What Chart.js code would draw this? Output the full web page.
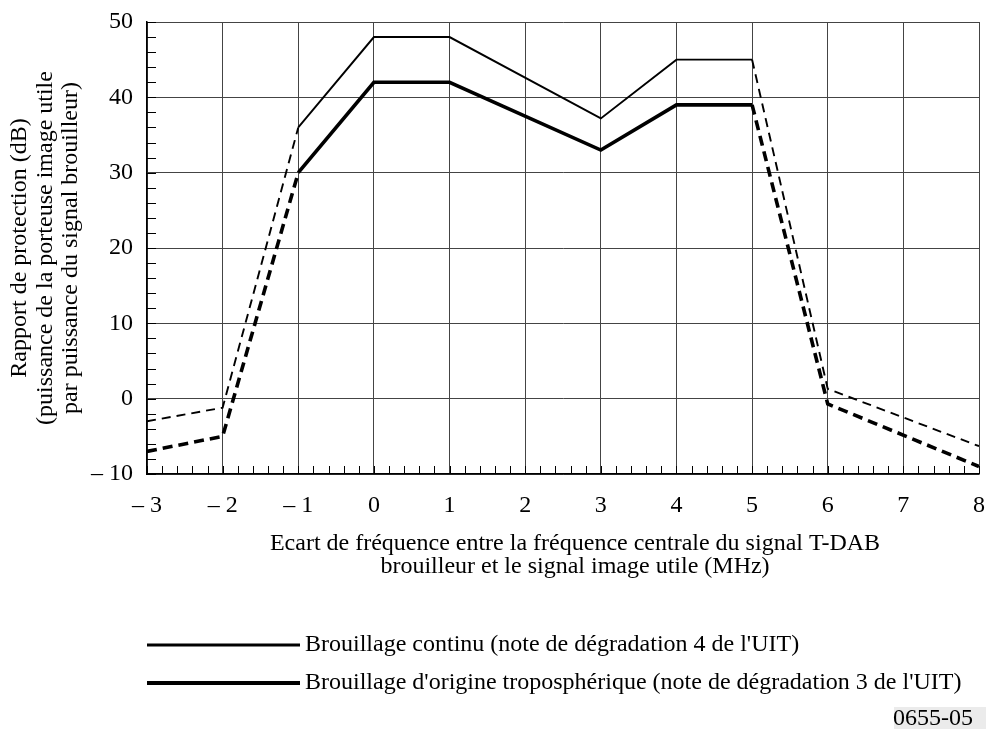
<!DOCTYPE html>
<html>
<head>
<meta charset="utf-8">
<script src="https://cdn.jsdelivr.net/npm/chart.js@4.4.1/dist/chart.umd.min.js"></script>
<style>
  html, body { margin: 0; padding: 0; background: #fff; }
  #wrap { position: relative; width: 986px; height: 729px; }
</style>
</head>
<body>
<div id="wrap"><canvas id="ratioChart" width="986" height="729"></canvas></div>
<script>
// Frequency offsets (MHz)
const freqOffsets = [-3, -2, -1, 0, 1, 3, 4, 5, 6, 8];
// Continuous interference (grade 4)
const continuValues = [-3, -1.2, 36, 48, 48, 37.2, 45, 45, 1.3, -6.3];
// Tropospheric interference (grade 3)
const tropoValues = [-7, -5, 30, 42, 42, 33, 39, 39, -0.7, -9];

const xTicks = [-3, -2, -1, 0, 1, 2, 3, 4, 5, 6, 7, 8];
const yTicks = [-10, 0, 10, 20, 30, 40, 50];

const legendLabels = [
  "Brouillage continu (note de dégradation 4 de l'UIT)",
  "Brouillage d'origine troposphérique (note de dégradation 3 de l'UIT)"
];
const yTitle = [
  'Rapport de protection (dB)',
  '(puissance de la porteuse image utile',
  'par puissance du signal brouilleur)'
];
const xTitle = [
  'Ecart de fréquence entre la fréquence centrale du signal T-DAB',
  'brouilleur et le signal image utile (MHz)'
];
const figureId = '0655-05';

const FONT = '"Liberation Serif", "Times New Roman", serif';
const FSIZE = 24;

function toPoints(values) {
  return freqOffsets.map((x, i) => ({ x: x, y: values[i] }));
}

// dashed outside the measured range -1..5
function dashOutside(dash) {
  return ctx => (ctx.p0.parsed.x < -1 || ctx.p1.parsed.x > 5) ? dash : undefined;
}

function minusLabel(v) {
  return v < 0 ? '\u2013 ' + Math.abs(v) : String(v);
}

// minor ticks, titles, legend
const extrasPlugin = {
  id: 'extras',
  afterDraw(chart) {
    const ctx = chart.ctx;
    const area = chart.chartArea;
    const xs = chart.scales.x;
    const ys = chart.scales.y;
    ctx.save();

    // inward minor ticks
    ctx.strokeStyle = '#000';
    ctx.lineWidth = 1;
    ctx.beginPath();
    for (let v = -10; v <= 50; v += 2) {
      const y = Math.round(ys.getPixelForValue(v)) + 0.5;
      ctx.moveTo(area.left, y);
      ctx.lineTo(area.left + 9, y);
    }
    for (let i = -30; i <= 80; i += 2) {
      const x = Math.round(xs.getPixelForValue(i / 10)) + 0.5;
      ctx.moveTo(x, area.bottom);
      ctx.lineTo(x, area.bottom - 8);
    }
    ctx.stroke();

    ctx.fillStyle = '#000';
    ctx.font = FSIZE + 'px ' + FONT;
    ctx.textAlign = 'center';
    ctx.textBaseline = 'middle';

    // y title
    const midY = (area.top + area.bottom) / 2;
    ctx.save();
    ctx.translate(20, midY);
    ctx.rotate(-Math.PI / 2);
    yTitle.forEach((line, i) => ctx.fillText(line, 0, i * 25.5));
    ctx.restore();

    // x title
    xTitle.forEach((line, i) => ctx.fillText(line, 575, 544 + i * 23));

    // legend
    ctx.textAlign = 'left';
    const legendY = [645, 683];
    const legendW = [3, 4];
    legendLabels.forEach((label, i) => {
      ctx.beginPath();
      ctx.lineWidth = legendW[i];
      ctx.moveTo(147, legendY[i]);
      ctx.lineTo(300, legendY[i]);
      ctx.stroke();
      ctx.fillText(label, 305, legendY[i]);
    });

    // figure id
    ctx.fillStyle = '#ebebeb';
    ctx.fillRect(894, 707, 92, 22);
    ctx.fillStyle = '#000';
    ctx.textAlign = 'right';
    ctx.fillText(figureId, 973, 719);

    ctx.restore();
  }
};

new Chart(document.getElementById('ratioChart').getContext('2d'), {
  type: 'line',
  data: {
    datasets: [
      {
        label: legendLabels[0],
        data: toPoints(continuValues),
        borderColor: '#000',
        borderWidth: 1.9,
        pointRadius: 0,
        tension: 0,
        fill: false,
        segment: { borderDash: dashOutside([9, 6]) }
      },
      {
        label: legendLabels[1],
        data: toPoints(tropoValues),
        borderColor: '#000',
        borderWidth: 3.6,
        pointRadius: 0,
        tension: 0,
        fill: false,
        segment: { borderDash: dashOutside([10, 6]) }
      }
    ]
  },
  options: {
    responsive: false,
    animation: false,
    events: [],
    layout: {
      padding: { top: 22, right: 7, left: 0, bottom: 0 }
    },
    scales: {
      x: {
        type: 'linear',
        min: -3,
        max: 8,
        afterBuildTicks: s => { s.ticks = xTicks.map(v => ({ value: v })); },
        afterFit: s => { s.height = 255; s.paddingLeft = 0; s.paddingRight = 0; },
        grid: { color: '#444', lineWidth: 1, drawTicks: false },
        border: { color: '#000', width: 1.5 },
        ticks: {
          color: '#000',
          padding: 17,
          font: { family: FONT, size: FSIZE },
          maxRotation: 0,
          autoSkip: false,
          callback: minusLabel
        }
      },
      y: {
        min: -10,
        max: 50,
        afterBuildTicks: s => { s.ticks = yTicks.map(v => ({ value: v })); },
        afterFit: s => { s.width = 147; s.paddingTop = 0; s.paddingBottom = 0; },
        grid: { color: '#444', lineWidth: 1, drawTicks: false },
        border: { color: '#000', width: 1.5 },
        ticks: {
          color: '#000',
          padding: 14,
          font: { family: FONT, size: FSIZE },
          callback: minusLabel
        }
      }
    },
    plugins: {
      legend: { display: false },
      tooltip: { enabled: false }
    }
  },
  plugins: [extrasPlugin]
});
</script>
</body>
</html>
